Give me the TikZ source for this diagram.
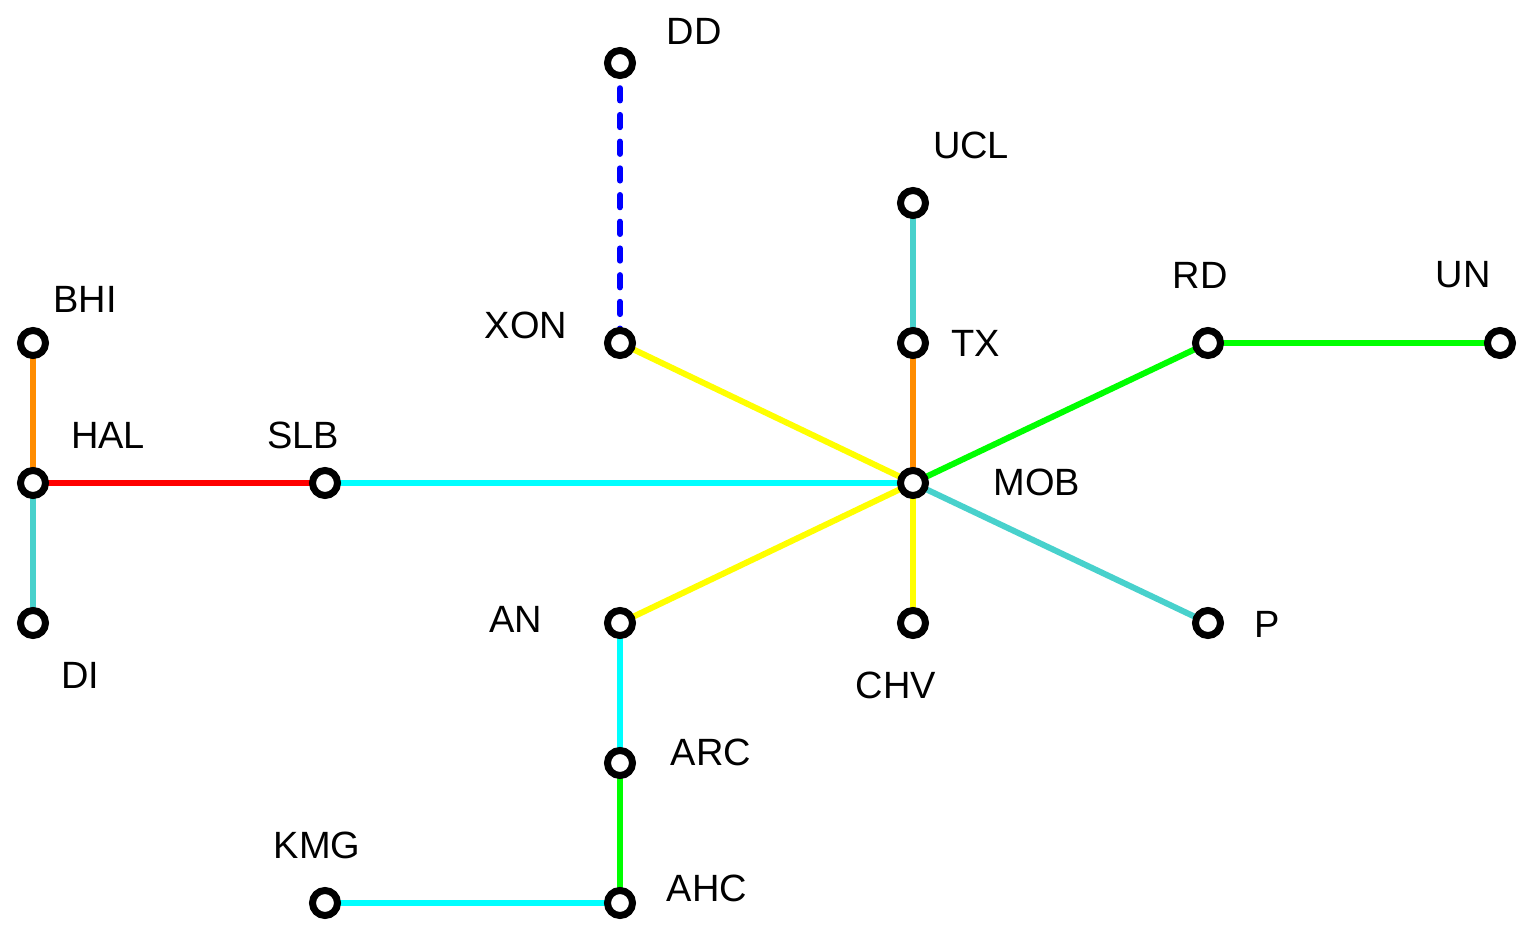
\documentclass[tikz,border=0pt]{standalone}
\usepackage{fontspec}
\setmainfont{Liberation Sans}
\definecolor{cOrange}{RGB}{255,140,0}
\definecolor{cTeal}{RGB}{72,209,204}
\definecolor{cCyan}{RGB}{0,255,255}
\definecolor{cRed}{RGB}{255,0,0}
\definecolor{cYellow}{RGB}{255,255,0}
\definecolor{cGreen}{RGB}{0,255,0}
\definecolor{cBlue}{RGB}{0,0,255}
\begin{document}
\begin{tikzpicture}[x=1pt,y=-1pt,
  stn/.style={circle,minimum size=25pt,inner sep=0pt},
  ring/.style={draw=black,fill=white,line width=7pt},
  lbl/.style={inner sep=0pt,font=\fontsize{38}{42}\selectfont},
  edge/.style={line width=6pt}]
\useasboundingbox (0,0) rectangle (1532,931);
% stations
\node[stn] (DD) at (620,63) {};
\node[stn] (UCL) at (913,203) {};
\node[stn] (XON) at (620,343) {};
\node[stn] (TX) at (913,343) {};
\node[stn] (RD) at (1208,343) {};
\node[stn] (UN) at (1500,343) {};
\node[stn] (BHI) at (33,343) {};
\node[stn] (HAL) at (33,483) {};
\node[stn] (SLB) at (325,483) {};
\node[stn] (MOB) at (913,483) {};
\node[stn] (DI) at (33,623) {};
\node[stn] (AN) at (620,623) {};
\node[stn] (CHV) at (913,623) {};
\node[stn] (P) at (1208,623) {};
\node[stn] (ARC) at (620,763) {};
\node[stn] (AHC) at (620,903) {};
\node[stn] (KMG) at (325,903) {};
% connectors
\draw[edge,cBlue,line cap=round,dash pattern=on 12.3pt off 14.4pt] ([yshift=14.2pt]DD.south) -- ([yshift=-15.5pt]XON.north);
\draw[edge,cTeal] (UCL.center) -- (TX.center);
\draw[edge,cYellow] (XON.center) -- (MOB.center);
\draw[edge,cOrange] (TX.center) -- (MOB.center);
\draw[edge,cGreen] (MOB.center) -- (RD.center);
\draw[edge,cGreen] (RD.center) -- (UN.center);
\draw[edge,cOrange] (BHI.center) -- (HAL.center);
\draw[edge,cRed] (HAL.center) -- (SLB.center);
\draw[edge,cTeal] (HAL.center) -- (DI.center);
\draw[edge,cCyan] (SLB.center) -- (MOB.center);
\draw[edge,cYellow] (MOB.center) -- (AN.center);
\draw[edge,cYellow] (MOB.center) -- (CHV.center);
\draw[edge,cTeal] (MOB.center) -- (P.center);
\draw[edge,cCyan] (AN.center) -- (ARC.center);
\draw[edge,cGreen] (ARC.center) -- (AHC.center);
\draw[edge,cCyan] (AHC.center) -- (KMG.center);
% station rings on top of the connectors
\foreach \n in {DD,UCL,XON,TX,RD,UN,BHI,HAL,SLB,MOB,DI,AN,CHV,P,ARC,AHC,KMG}
  \draw[ring] (\n.center) circle[radius=12.5pt];
% labels
\node[lbl] (lDD) at (694,31) {DD};
\node[lbl] (lUCL) at (971,145) {UCL};
\node[lbl] (lXON) at (526,325) {XON};
\node[lbl] (lTX) at (976,343) {TX};
\node[lbl] (lRD) at (1200,275) {RD};
\node[lbl] (lUN) at (1463,275) {UN};
\node[lbl] (lBHI) at (85,299) {BHI};
\node[lbl] (lHAL) at (108,435) {HAL};
\node[lbl] (lSLB) at (303,435) {SLB};
\node[lbl] (lMOB) at (1037,482) {MOB};
\node[lbl] (lDI) at (80,675) {DI};
\node[lbl] (lAN) at (516,619) {AN};
\node[lbl] (lCHV) at (896,685) {CHV};
\node[lbl] (lP) at (1267,624) {P};
\node[lbl] (lARC) at (711,752) {ARC};
\node[lbl] (lAHC) at (707,888) {AHC};
\node[lbl] (lKMG) at (317,845) {KMG};
\end{tikzpicture}
\end{document}
